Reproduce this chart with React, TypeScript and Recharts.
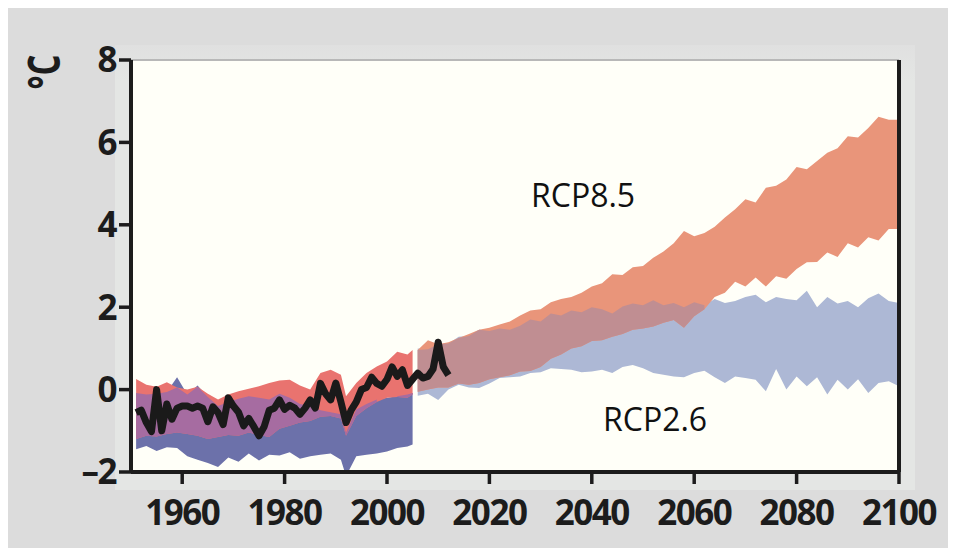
import React from 'react';
import {
  Area,
  CartesianGrid,
  ComposedChart,
  Line,
  ReferenceLine,
  XAxis,
  YAxis,
} from 'recharts';

// --- historical model spread (1951-2005) ---
const HIST_YEARS = [
  1951, 1953, 1955, 1957, 1959, 1961, 1963, 1965, 1967, 1969, 1971, 1973, 1975, 1977, 1979,
  1981, 1983, 1985, 1987, 1989, 1991, 1992, 1994, 1996, 1998, 2000, 2002, 2004, 2005,
];
const HIST_85_HI = [
  0.26, 0.12, 0.07, 0.18, 0.05, 0.0, 0.07, -0.1, -0.24, -0.12, -0.04, 0.02, 0.08, 0.16, 0.22,
  0.24, 0.1, 0.0, 0.4, 0.48, 0.36, -0.16, 0.16, 0.4, 0.56, 0.68, 0.92, 0.85, 0.96,
];
const HIST_85_LO = [
  -1.2, -1.12, -1.14, -1.08, -1.04, -1.08, -1.12, -1.2, -1.15, -1.1, -1.12, -1.04, -1.1, -1.15, -0.95,
  -0.88, -0.8, -0.76, -0.66, -0.64, -0.7, -1.12, -0.64, -0.45, -0.3, -0.2, -0.18, -0.2, -0.12,
];
const HIST_26_HI = [
  -0.08, -0.12, -0.1, -0.06, 0.3, -0.12, 0.1, -0.18, -0.4, -0.3, -0.22, -0.16, -0.2, -0.24, -0.1,
  -0.2, -0.35, -0.4, -0.5, -0.55, -0.6, -1.04, -0.48, -0.35, -0.24, -0.2, -0.16, -0.12, -0.08,
];
const HIST_26_LO = [
  -1.45, -1.37, -1.49, -1.4, -1.42, -1.62, -1.7, -1.78, -1.88, -1.65, -1.75, -1.55, -1.72, -1.58, -1.6,
  -1.52, -1.68, -1.62, -1.58, -1.55, -1.7, -2.1, -1.62, -1.58, -1.55, -1.5, -1.42, -1.38, -1.33,
];

// --- projections (2006-2100) ---
const PROJ_YEARS = [
  2006, 2008, 2010, 2012, 2014, 2016, 2018, 2020, 2022, 2024, 2026, 2028, 2030, 2032, 2034, 2036,
  2038, 2040, 2042, 2044, 2046, 2048, 2050, 2052, 2054, 2056, 2058, 2060, 2062, 2064, 2066, 2068,
  2070, 2072, 2074, 2076, 2078, 2080, 2082, 2084, 2086, 2088, 2090, 2092, 2094, 2096, 2098, 2100,
];
const RCP85_HI = [
  0.96, 1.2, 1.1, 1.15, 1.25, 1.35, 1.45, 1.5, 1.58, 1.65, 1.8, 1.92, 1.95, 2.12, 2.2, 2.25,
  2.35, 2.5, 2.58, 2.8, 2.78, 2.97, 3.0, 3.2, 3.35, 3.55, 3.85, 3.72, 3.8, 3.95, 4.18, 4.38,
  4.62, 4.54, 4.9, 4.95, 5.1, 5.4, 5.35, 5.55, 5.75, 5.86, 6.15, 6.12, 6.35, 6.62, 6.55, 6.55,
];
const RCP85_LO = [
  -0.05, 0.0, 0.05, 0.05, 0.15, 0.12, 0.16, 0.25, 0.3, 0.35, 0.44, 0.45, 0.55, 0.75, 0.85, 1.0,
  1.05, 1.18, 1.2, 1.28, 1.35, 1.45, 1.48, 1.53, 1.62, 1.69, 1.5, 1.78, 1.95, 2.25, 2.35, 2.62,
  2.5, 2.72, 2.5, 2.75, 2.69, 2.93, 3.09, 3.1, 3.33, 3.22, 3.55, 3.45, 3.7, 3.62, 3.9, 3.9,
];
const RCP26_HI = [
  1.0, 0.98, 1.1, 1.12, 1.28, 1.3, 1.45, 1.42, 1.48, 1.45, 1.55, 1.7, 1.65, 1.85, 1.8, 1.92,
  1.88, 2.0, 1.95, 1.85, 2.02, 2.09, 2.05, 2.17, 2.05, 2.1, 2.0, 2.12, 2.05, 2.2, 2.1, 2.15,
  2.25, 2.3, 2.12, 2.25, 2.2, 2.17, 2.4, 2.0, 2.25, 2.09, 2.15, 2.0, 2.22, 2.33, 2.15, 2.1,
];
const RCP26_LO = [
  -0.15, -0.1, -0.25, 0.0, 0.12, 0.05, 0.04, 0.15, 0.28, 0.3, 0.32, 0.4, 0.42, 0.52, 0.5, 0.48,
  0.42, 0.44, 0.48, 0.4, 0.55, 0.6, 0.52, 0.4, 0.36, 0.32, 0.3, 0.4, 0.46, 0.3, 0.16, 0.32,
  0.28, 0.24, -0.04, 0.5, 0.0, 0.32, 0.08, 0.3, -0.12, 0.24, 0.0, 0.25, -0.08, 0.16, 0.2, 0.08,
];

// --- observed (black line) ---
const OBS_YEARS = [
  1951, 1952, 1953, 1954, 1955, 1956, 1957, 1958, 1959, 1960, 1961, 1962, 1963, 1964, 1965, 1966,
  1967, 1968, 1969, 1970, 1971, 1972, 1973, 1974, 1975, 1976, 1977, 1978, 1979, 1980, 1981, 1982,
  1983, 1984, 1985, 1986, 1987, 1988, 1989, 1990, 1991, 1992, 1993, 1994, 1995, 1996, 1997, 1998,
  1999, 2000, 2001, 2002, 2003, 2004, 2005, 2006, 2007, 2008, 2009, 2010, 2011, 2012,
];
const OBS_VALUES = [
  -0.56, -0.5, -0.8, -1.02, 0.0, -1.0, -0.35, -0.72, -0.45, -0.4, -0.4, -0.45, -0.4, -0.45, -0.78, -0.42,
  -0.56, -0.85, -0.2, -0.4, -0.55, -0.88, -0.7, -0.9, -1.12, -0.9, -0.5, -0.45, -0.25, -0.48, -0.38, -0.45,
  -0.6, -0.45, -0.25, -0.45, 0.15, -0.1, -0.25, 0.16, -0.3, -0.8, -0.5, -0.3, 0.0, 0.05, 0.3, 0.15,
  0.08, 0.25, 0.55, 0.32, 0.48, 0.1, 0.25, 0.4, 0.28, 0.32, 0.5, 1.15, 0.55, 0.35,
];

const X_TICKS = [1960, 1980, 2000, 2020, 2040, 2060, 2080, 2100];
const Y_TICKS = [-2, 0, 2, 4, 6, 8];

const band = (years: number[], lo: number[], hi: number[]) =>
  years.map((year, i) => ({ year, range: [lo[i], hi[i]] }));

const overlap = (years: number[], aLo: number[], aHi: number[], bLo: number[], bHi: number[]) =>
  years.map((year, i) => {
    const lo = Math.max(aLo[i], bLo[i]);
    const hi = Math.min(aHi[i], bHi[i]);
    return { year, range: lo < hi ? [lo, hi] : null };
  });

const hist85 = band(HIST_YEARS, HIST_85_LO, HIST_85_HI);
const hist26 = band(HIST_YEARS, HIST_26_LO, HIST_26_HI);
const histBoth = overlap(HIST_YEARS, HIST_85_LO, HIST_85_HI, HIST_26_LO, HIST_26_HI);
const proj85 = band(PROJ_YEARS, RCP85_LO, RCP85_HI);
const proj26 = band(PROJ_YEARS, RCP26_LO, RCP26_HI);
const projBoth = overlap(PROJ_YEARS, RCP85_LO, RCP85_HI, RCP26_LO, RCP26_HI);
const obs = OBS_YEARS.map((year, i) => ({ year, value: OBS_VALUES[i] }));

const TICK_FONT = {
  fill: '#1c1c1c',
  fontSize: 35,
  fontWeight: 700,
  fontFamily: '"Open Sans", sans-serif',
  letterSpacing: -1.5,
};

const fmtY = (v: number) => (v < 0 ? `\u2013${-v}` : `${v}`);

export default function App() {
  return (
    <div
      style={{
        position: 'relative',
        width: 956,
        height: 556,
        margin: -8,
        background: '#dcdcdc',
        overflow: 'hidden',
      }}
    >
      <div
        style={{
          position: 'absolute',
          left: 115,
          top: 45,
          width: 800,
          height: 445,
          background: 'linear-gradient(#e0e0e0, #e4e6e4 8%)',
        }}
      />
      <ComposedChart
        width={956}
        height={556}
        margin={{ top: 60, right: 0, bottom: 0, left: 0 }}
        style={{ position: 'absolute', left: 0, top: 0 }}
      >
        <CartesianGrid horizontal={false} vertical={false} fill="#fffff8" />
        <XAxis
          type="number"
          dataKey="year"
          domain={[1950, 2100]}
          ticks={X_TICKS}
          allowDataOverflow
          height={84}
          axisLine={{ stroke: '#1c1c1c', strokeWidth: 4 }}
          tickLine={{ stroke: '#1c1c1c', strokeWidth: 3.5 }}
          tickSize={12}
          tickMargin={16}
          tick={TICK_FONT}
        />
        <YAxis
          type="number"
          domain={[-2, 8]}
          ticks={Y_TICKS}
          allowDataOverflow
          width={131}
          axisLine={{ stroke: '#1c1c1c', strokeWidth: 4 }}
          tickLine={{ stroke: '#1c1c1c', strokeWidth: 3.5 }}
          tickSize={12}
          tickMargin={3}
          tick={TICK_FONT}
          tickFormatter={fmtY}
        />
        <YAxis
          yAxisId="r"
          orientation="right"
          type="number"
          domain={[-2, 8]}
          ticks={Y_TICKS}
          width={57}
          axisLine={{ stroke: '#1c1c1c', strokeWidth: 4 }}
          tickLine={{ stroke: '#1c1c1c', strokeWidth: 3.5 }}
          tickSize={12}
          tick={false}
        />
        <ReferenceLine y={8} stroke="#b8b8b8" strokeWidth={2} />

        <Area data={hist26} dataKey="range" type="linear" stroke="none" fill="#6c71aa" fillOpacity={1} isAnimationActive={false} />
        <Area data={hist85} dataKey="range" type="linear" stroke="none" fill="#e9736f" fillOpacity={1} isAnimationActive={false} />
        <Area data={histBoth} dataKey="range" type="linear" stroke="none" fill="#a66ca1" fillOpacity={1} isAnimationActive={false} />

        <Area data={proj26} dataKey="range" type="linear" stroke="none" fill="#adb8d5" fillOpacity={1} isAnimationActive={false} />
        <Area data={proj85} dataKey="range" type="linear" stroke="none" fill="#e9957a" fillOpacity={1} isAnimationActive={false} />
        <Area data={projBoth} dataKey="range" type="linear" stroke="none" fill="#c08e92" fillOpacity={1} isAnimationActive={false} />

        <Line
          data={obs}
          dataKey="value"
          type="linear"
          stroke="#1a1a1a"
          strokeWidth={7}
          strokeLinejoin="round"
          dot={false}
          isAnimationActive={false}
        />
      </ComposedChart>
      <svg
        width={956}
        height={556}
        style={{ position: 'absolute', left: 0, top: 0, pointerEvents: 'none' }}
      >
        <text
          transform="translate(60,72) rotate(-90) scale(0.75,1)"
          textAnchor="middle"
          fontFamily='"Open Sans", sans-serif'
          fontWeight={700}
          fontSize={44}
          fill="#1c1c1c"
        >
          °C
        </text>
        <text x={531} y={207} fontFamily='"Open Sans", sans-serif' fontSize={32} fill="#111">
          RCP8.5
        </text>
        <text x={603} y={431} fontFamily='"Open Sans", sans-serif' fontSize={32} fill="#111">
          RCP2.6
        </text>
      </svg>
    </div>
  );
}
